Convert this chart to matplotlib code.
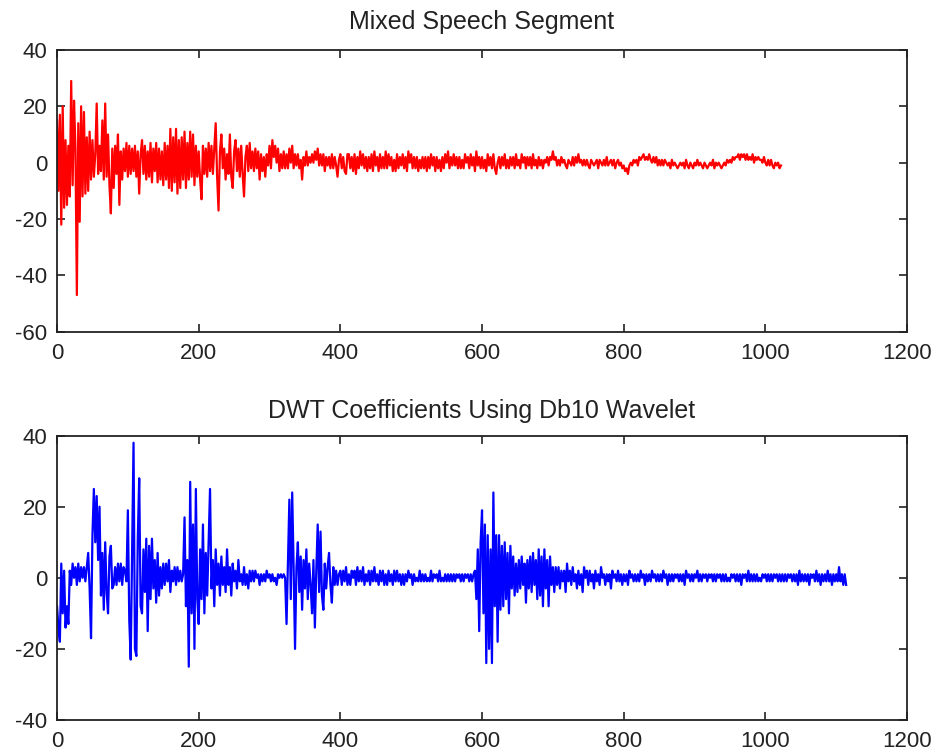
import numpy as np
import matplotlib
matplotlib.use("Agg")
import matplotlib.pyplot as plt

plt.rcParams['font.family'] = ['Liberation Sans', 'DejaVu Sans']
plt.rcParams['axes.unicode_minus'] = False

# ---- data (one value every 2 samples) ----
sample_step = 2

mixed_speech = [
    15, -10, 17, -22, 20, -16, 8, -15, 6, -12, 29, -8, 22, 5, -47, 14, -21, 20, -12, 18,
    -11, 9, -10, 11, -6, 8, -5, 3, 21, -4, 6, -3, 15, -6, 21, -5, 10, -8, -18, 5,
    -9, 6, -4, 10, -15, 4, -6, 5, -3, 7, -5, 6, -4, 5, -3, 6, -5, 4, -11, 3,
    8, -4, 6, -6, 4, -5, 7, -7, 5, -3, 7, -7, 5, -6, 4, -8, 7, -6, 6, -9,
    12, -10, 9, -7, 12, -11, 8, -9, 9, -6, 11, -9, 7, -6, 11, -5, 10, -8, 6, -5,
    4, -6, -13, 6, -4, 5, -5, 7, -3, 6, -4, 5, 14, -5, -17, 4, 10, -2, 5, -6,
    3, -4, 10, -5, -9, 4, 8, -3, 5, -5, 6, -4, -12, 2, 6, -3, 7, -2, 4, -3,
    5, -2, 4, -6, 3, -3, 2, -5, 3, -1, 6, -2, 8, 2, 6, 0, 5, -3, 3, -2,
    4, -2, 3, -2, 5, 0, 6, -2, 3, -1, 3, -2, 1, -6, 2, -1, 4, -1, 2, 0,
    3, 0, 4, 1, 5, -1, 3, -1, 3, -3, 2, -1, 2, -2, 3, -2, 2, -1, -5, 1,
    3, -2, 2, -3, -4, 3, 3, -2, 2, -3, 3, -4, 2, -2, 4, -1, 3, -2, 2, -3,
    2, -2, 3, -3, 4, -1, 2, -3, 3, -2, 2, -2, 4, -2, 3, -1, 2, -3, 1, -3,
    3, -2, 2, -1, 3, -2, 2, -3, 4, 0, 3, -2, 2, -2, 2, -3, 1, -2, 2, -2,
    2, -3, 2, -2, 3, -1, 2, -3, 2, -2, 1, -3, 2, -2, 3, 0, 4, -2, 2, -1,
    3, -1, 2, -2, 2, -2, 1, -2, 3, 0, 2, -2, 3, -1, 2, -3, 4, -1, 2, -2,
    2, -2, 1, -3, 3, -1, 2, -2, 3, -2, -4, 0, 2, -2, 2, -1, 3, -2, 1, -2,
    2, -1, 2, -2, 3, -1, 1, -2, 3, 0, 2, -2, 2, -1, 2, -2, 3, -1, 1, -2,
    2, -1, 1, -2, 1, 0, 2, -1, 2, 1, 4, 1, 2, -1, 1, -1, 2, 0, 1, -1,
    -2, 1, 0, -1, 2, -1, 2, 0, 3, 0, 1, -1, 1, -1, 1, -1, -2, 1, 0, -1,
    0, 1, -2, 1, 0, -1, 1, -1, 2, -1, 0, 1, -1, 1, -2, 0, 1, -1, 0, -2,
    -1, -3, -2, -4, -1, 0, -1, 1, 0, 1, -1, 2, 1, 2, 3, 1, 2, 1, 3, 1,
    0, 2, 0, 2, -1, 1, -1, 1, -1, 1, 0, -1, 0, -2, 1, -1, 0, -1, -2, -1,
    0, -1, 0, -2, 1, -1, -2, 0, -1, -2, 0, -1, 1, -1, 0, -1, -2, 0, -1, -2,
    -1, 0, -1, 1, -2, 0, -1, 0, -1, -2, -1, 0, -1, 1, 0, 1, 0, 2, 1, 2,
    2, 3, 1, 3, 2, 3, 1, 3, 1, 2, 1, 3, 0, 2, 1, 2, 1, 1, 0, 2,
    0, -1, 1, -1, 1, -1, -2, 0, -1, 0, -2, -1,
]

dwt_coeffs = [
    -8, -14, -18, 4, -10, 2, -14, -8, -13, 2, -2, 4, 0, 3, -2, 4, -1, 3, 0, 3,
    -1, 3, 7, -3, -17, 12, 25, 10, 23, 5, 20, -5, 7, -9, 10, -4, -10, 6, 9, -3,
    -2, 3, -2, 4, -1, 4, -2, 3, 2, -1, 19, -12, -23, 8, 38, -20, -22, 11, 28, -8,
    -10, 8, -4, 11, -15, 9, -6, 11, -3, 5, -7, 7, -5, 3, -3, 4, -2, 4, -1, 5,
    -4, 2, -1, 3, -2, 3, -1, 2, -1, 1, 17, -8, 5, -25, 27, -10, 15, -20, 25, -6,
    -13, 8, -6, 15, -10, 7, -5, 10, 25, -3, 5, -8, 8, -2, 4, -5, 6, -2, 3, -4,
    8, -2, 3, -5, 4, -1, 2, -3, 5, -1, 1, -2, 3, -2, 1, -3, 2, -1, 2, -1,
    2, 0, 1, -2, 1, -1, 1, -1, 2, 0, 1, -1, 1, -1, 0, -2, 1, 0, 1, 0,
    1, 0, -13, 5, 22, -6, 24, 3, -20, 3, 10, -4, 6, -9, 5, -3, 8, -6, 4, -2,
    -10, 5, -14, 2, 15, -4, 13, -5, -9, 4, -3, 3, 7, -2, -7, 3, -2, 2, -2, 1,
    2, -2, 2, -1, 3, -2, 1, -2, 2, 0, 2, -2, 3, -1, 2, -1, 3, -2, 1, -1,
    2, -2, 2, -1, 3, -1, 1, -2, 2, -1, 2, -2, 1, -2, 2, -1, 1, -2, 2, -1,
    2, -1, 1, -2, 1, -2, 1, -1, 2, 0, 1, -2, 1, -1, 0, -1, 2, -1, 1, -1,
    1, -1, 0, -1, 2, -1, 1, 0, 1, -1, 2, -1, 0, -1, 1, -1, 1, -1, 1, -1,
    1, -1, 1, 0, 1, -1, 1, -1, 1, 0, 1, -1, 1, -1, 1, 2, -6, 8, -15, 10,
    19, -10, 15, -24, 12, -20, 8, -24, 24, -8, 12, -18, 12, -9, 9, -8, 10, -6, 7, -10,
    9, -3, 6, -5, 4, -4, 5, -3, 6, -2, 4, -7, 5, -3, 6, -4, 7, -2, 5, -6,
    8, -5, 6, -8, 8, -3, 5, -8, 6, -2, 3, -4, 3, -2, 3, -3, 2, -1, 2, -4,
    4, -1, 2, -2, 3, -1, 1, -3, 2, -2, 1, -4, 3, 0, 2, -2, 2, -1, 1, -3,
    2, -1, 1, -2, 3, 0, 1, -2, 1, -1, 1, -3, 2, 0, 1, -1, 2, -1, 1, -2,
    1, -1, 1, -2, 2, 0, 1, -1, 1, -1, 1, -1, 2, 0, 1, -2, 1, -1, 1, -1,
    2, 0, 1, -1, 1, -1, 1, -1, 2, 0, 1, -2, 1, -1, 1, -1, 1, 0, 1, -1,
    1, -1, 1, -2, 2, 0, 1, -1, 1, -1, 1, 0, 2, -1, 1, -1, 1, 0, 1, -1,
    1, 0, 1, -1, 1, -1, 1, 0, 1, -1, 1, -1, 1, -1, 0, -1, 1, 0, 1, -1,
    1, -1, 1, -2, 1, 0, 1, -1, 2, -1, 1, -1, 1, -1, 1, -1, 0, -1, 1, 0,
    1, -1, 1, -1, 1, -1, 1, 0, 1, -1, 1, -1, 1, -1, 1, -1, 1, 0, 1, -1,
    1, -1, 1, -2, 2, -1, 1, -1, 1, -1, 1, -2, 1, 0, 1, -1, 2, -1, 1, -2,
    1, -1, 1, -1, 2, -1, 1, -2, 1, -1, 1, -1, 3, -1, 1, -2, 1, -2,
]

titles = ["Mixed Speech Segment", "DWT Coefficients Using Db10 Wavelet"]
title_pads = [15, 13]
x_ticks = [0, 200, 400, 600, 800, 1000, 1200]
top_yticks = [-60, -40, -20, 0, 20, 40]
bot_yticks = [-40, -20, 0, 20, 40]

fig = plt.figure(figsize=(9.38, 7.55), dpi=100)
ax1 = fig.add_axes([0.0608, 0.5607, 0.9062, 0.3731])
ax2 = fig.add_axes([0.0608, 0.0464, 0.9062, 0.3766])

series = [
    (ax1, mixed_speech, "#ff0000", top_yticks),
    (ax2, dwt_coeffs, "#0000ff", bot_yticks),
]
for k, (ax, vals, col, yt) in enumerate(series):
    x = np.arange(len(vals)) * sample_step
    ax.plot(x, vals, color=col, lw=1.6)
    ax.set_xlim(0, 1200)
    ax.set_ylim(yt[0], yt[-1])
    ax.set_xticks(x_ticks)
    ax.set_yticks(yt)
    ax.tick_params(direction='in', length=6, width=1.2, top=True, right=True,
                   labelsize=16, colors='#222222', pad=7)
    ax.tick_params(axis='x', pad=8)
    for s in ax.spines.values():
        s.set_linewidth(1.3)
        s.set_color('#222222')
    ax.set_title(titles[k], fontsize=18, color='#222222', pad=title_pads[k])

fig.savefig("out.png", dpi=100, facecolor='white')
